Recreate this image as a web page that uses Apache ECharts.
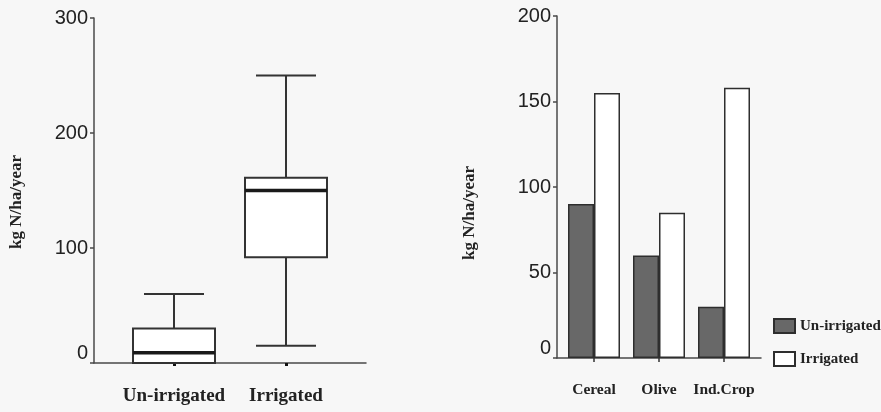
<!DOCTYPE html>
<html>
<head>
<meta charset="utf-8">
<script src="https://cdn.jsdelivr.net/npm/echarts@6/dist/echarts.min.js"></script>
<style>
html,body{margin:0;padding:0;background:#f7f7f7;}
#chart{width:881px;height:412px;}
</style>
</head>
<body>
<div id="chart"></div>
<script>
// Left panel: box plot
const boxCategories = ['Un-irrigated', 'Irrigated'];
const boxMin    = [0, 15];
const boxQ1     = [0, 92];
const boxMedian = [9, 150];
const boxQ3     = [30, 161];
const boxMax    = [60, 250];
const leftTicks = [0, 100, 200, 300];

// Right panel: grouped bars
const barCategories = ['Cereal', 'Olive', 'Ind.Crop'];
const unirrigatedVals = [90, 60, 30];
const irrigatedVals   = [155, 85, 158];
const rightTicks = [0, 50, 100, 150, 200];

const yName = 'kg N/ha/year';

const boxData = boxCategories.map((c, i) => [i, boxMin[i], boxQ1[i], boxMedian[i], boxQ3[i], boxMax[i]]);

const SERIF = '"Liberation Serif", "Times New Roman", serif';
const SANS = '"Liberation Sans", Arial, sans-serif';
const AXIS_COLOR = '#4a4a4a';
const TXT = '#222';

const yLabelFmt = v => (v === 0 ? '{z|0}' : String(v));
const yLabelRich = { z: { padding: [0, 0, 20, 0], fontSize: 20, fontFamily: SANS, color: TXT } };

const chart = echarts.init(document.getElementById('chart'), null, { renderer: 'canvas' });

chart.setOption({
  backgroundColor: '#f7f7f7',
  animation: false,
  grid: [
    { left: 94, top: 18, width: 272, height: 345 },
    { left: 118, top: 18, width: 224, height: 345 },
    { left: 557, top: 16, width: 204, height: 342 },
    { left: 561.5, top: 16, width: 195, height: 342 }
  ],
  xAxis: [
    { gridIndex: 0, type: 'value', min: 0, max: 1,
      axisLine: { show: true, onZero: false, lineStyle: { color: AXIS_COLOR, width: 1.5 } },
      axisTick: { show: false }, axisLabel: { show: false }, splitLine: { show: false } },
    { gridIndex: 1, type: 'category', data: boxCategories, boundaryGap: true,
      axisLine: { show: false },
      axisTick: { show: true, alignWithLabel: true, interval: 0, length: 3, inside: false, lineStyle: { color: '#111', width: 3 } },
      axisLabel: { interval: 0, hideOverlap: false, margin: 24, fontFamily: SERIF, fontWeight: 'bold', fontSize: 19, color: TXT } },
    { gridIndex: 2, type: 'value', min: 0, max: 1,
      axisLine: { show: true, onZero: false, lineStyle: { color: AXIS_COLOR, width: 1.5 } },
      axisTick: { show: false }, axisLabel: { show: false }, splitLine: { show: false } },
    { gridIndex: 3, type: 'category', data: barCategories, boundaryGap: true,
      axisLine: { show: false },
      axisTick: { show: true, alignWithLabel: true, interval: 0, length: 4, lineStyle: { color: '#333', width: 1.5 } },
      axisLabel: { interval: 0, hideOverlap: false, margin: 24, fontFamily: SERIF, fontWeight: 'bold', fontSize: 15.5, color: TXT } }
  ],
  yAxis: [
    { gridIndex: 0, type: 'value', min: leftTicks[0], max: leftTicks[leftTicks.length - 1], interval: 100,
      axisLine: { show: true, lineStyle: { color: AXIS_COLOR, width: 1.5 } },
      axisTick: { show: true, length: 4, lineStyle: { color: AXIS_COLOR, width: 1.5 } },
      axisLabel: { margin: 6, fontFamily: SANS, fontSize: 20, color: TXT, formatter: yLabelFmt, rich: yLabelRich },
      splitLine: { show: false } },
    { gridIndex: 1, type: 'value', min: leftTicks[0], max: leftTicks[leftTicks.length - 1], show: false, splitLine: { show: false } },
    { gridIndex: 2, type: 'value', min: rightTicks[0], max: rightTicks[rightTicks.length - 1], interval: 50,
      axisLine: { show: true, lineStyle: { color: AXIS_COLOR, width: 1.5 } },
      axisTick: { show: true, length: 4, lineStyle: { color: AXIS_COLOR, width: 1.5 } },
      axisLabel: { margin: 6, fontFamily: SANS, fontSize: 20, color: TXT, formatter: yLabelFmt, rich: yLabelRich },
      splitLine: { show: false } },
    { gridIndex: 3, type: 'value', min: rightTicks[0], max: rightTicks[rightTicks.length - 1], show: false, splitLine: { show: false } }
  ],
  legend: {
    orient: 'vertical', left: 768, top: 313,
    itemWidth: 21, itemHeight: 14, itemGap: 17,
    icon: 'rect',
    textStyle: { fontFamily: SERIF, fontWeight: 'bold', fontSize: 15, color: TXT },
    data: ['Un-irrigated', 'Irrigated']
  },
  graphic: [
    { type: 'text', x: 17, y: 202, rotation: Math.PI / 2,
      style: { text: yName, font: 'bold 17px ' + SERIF, fill: TXT, align: 'center', verticalAlign: 'middle' } },
    { type: 'text', x: 470, y: 213, rotation: Math.PI / 2,
      style: { text: yName, font: 'bold 17px ' + SERIF, fill: TXT, align: 'center', verticalAlign: 'middle' } }
  ],
  series: [
    {
      type: 'custom',
      xAxisIndex: 1, yAxisIndex: 1,
      data: boxData,
      encode: { x: 0, y: [1, 2, 3, 4, 5] },
      z: 5,
      renderItem: function (params, api) {
        const idx = api.value(0);
        const cx = api.coord([idx, 0])[0];
        const yMin = api.coord([idx, api.value(1)])[1];
        const yQ1 = api.coord([idx, api.value(2)])[1];
        const yMed = api.coord([idx, api.value(3)])[1];
        const yQ3 = api.coord([idx, api.value(4)])[1];
        const yMax = api.coord([idx, api.value(5)])[1];
        const bw = 82, cw = 60;
        const st = { stroke: '#333', lineWidth: 2, fill: null };
        return {
          type: 'group',
          children: [
            { type: 'line', shape: { x1: cx, y1: yQ3, x2: cx, y2: yMax }, style: st },
            { type: 'line', shape: { x1: cx - cw / 2, y1: yMax, x2: cx + cw / 2, y2: yMax }, style: st },
            { type: 'line', shape: { x1: cx, y1: yQ1, x2: cx, y2: yMin }, style: st },
            { type: 'line', shape: { x1: cx - cw / 2, y1: yMin, x2: cx + cw / 2, y2: yMin }, style: st },
            { type: 'rect', shape: { x: cx - bw / 2, y: yQ3, width: bw, height: yQ1 - yQ3 },
              style: { stroke: '#333', lineWidth: 2, fill: '#ffffff' } },
            { type: 'line', shape: { x1: cx - bw / 2, y1: yMed, x2: cx + bw / 2, y2: yMed },
              style: { stroke: '#1a1a1a', lineWidth: 3.5 } }
          ]
        };
      }
    },
    {
      name: 'Un-irrigated', type: 'bar', xAxisIndex: 3, yAxisIndex: 3,
      data: unirrigatedVals, barWidth: 26, barGap: '0%',
      itemStyle: { color: '#686868', borderColor: '#2e2e2e', borderWidth: 1.5 }
    },
    {
      name: 'Irrigated', type: 'bar', xAxisIndex: 3, yAxisIndex: 3,
      data: irrigatedVals, barWidth: 26, barGap: '0%',
      itemStyle: { color: '#ffffff', borderColor: '#2e2e2e', borderWidth: 1.5 }
    }
  ]
});
</script>
</body>
</html>
